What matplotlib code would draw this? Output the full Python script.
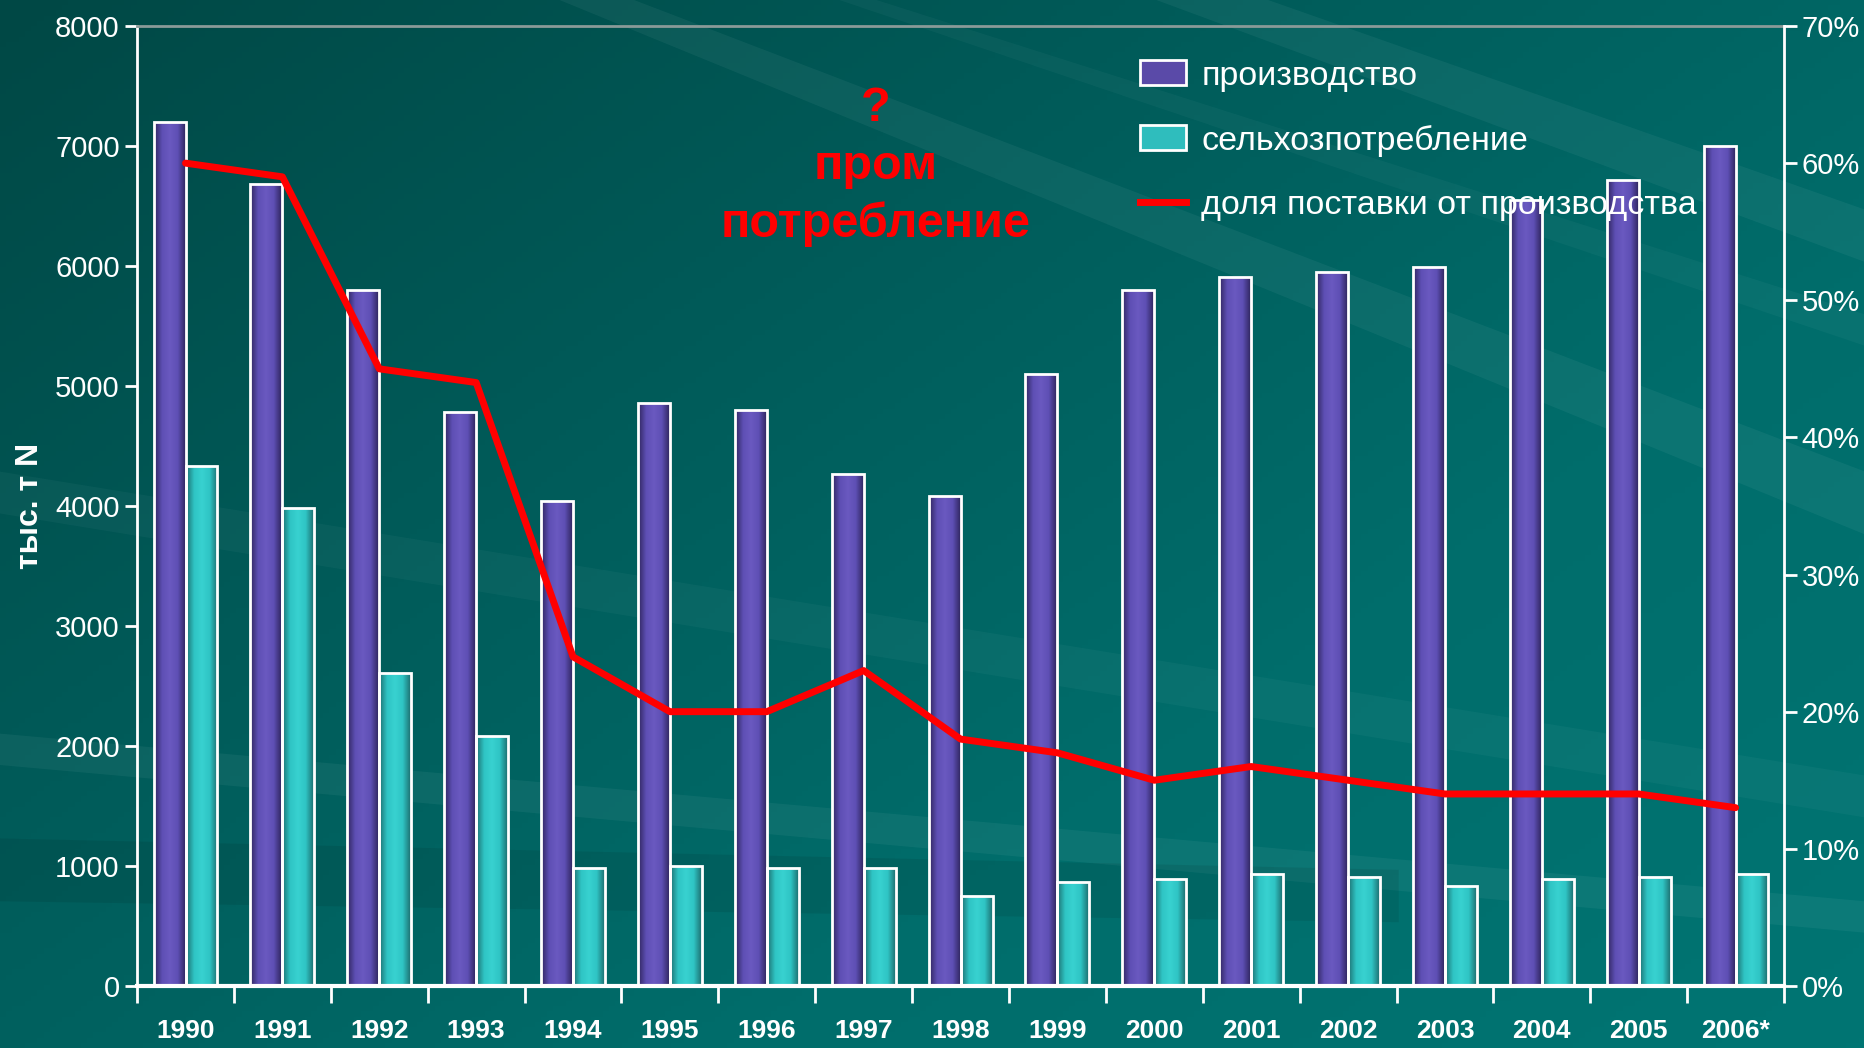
import numpy as np
import matplotlib.pyplot as plt
from matplotlib.colors import LinearSegmentedColormap
from matplotlib.patches import Patch, Polygon
from matplotlib.lines import Line2D
from matplotlib.ticker import FuncFormatter

# data
years = ["1990", "1991", "1992", "1993", "1994", "1995", "1996", "1997", "1998",
         "1999", "2000", "2001", "2002", "2003", "2004", "2005", "2006*"]
production = [7200, 6680, 5800, 4780, 4040, 4860, 4800, 4270, 4080,
              5100, 5800, 5910, 5950, 5990, 6550, 6720, 7000]
agri_use = [4330, 3980, 2610, 2080, 980, 1000, 980, 980, 750,
            870, 890, 930, 910, 830, 890, 910, 930]
supply_share = [60, 59, 45, 44, 24, 20, 20, 23, 18, 17, 15, 16, 15, 14, 14, 14, 13]

NARROW = ["Liberation Sans Narrow", "Liberation Sans", "DejaVu Sans"]
BOLD = ["Liberation Sans", "DejaVu Sans"]

fig = plt.figure(figsize=(18.65, 10.48), dpi=100)

# teal background with a few diagonal streaks
bg = fig.add_axes([0, 0, 1, 1], zorder=-10)
gx, gy = np.meshgrid(np.linspace(0, 1, 300), np.linspace(0, 1, 200))
t = np.clip(0.55 * gx + 0.45 * gy, 0, 1)
bg_cmap = LinearSegmentedColormap.from_list("bg", ["#004845", "#005a58", "#006d6b", "#007573"])
bg.imshow(t, cmap=bg_cmap, extent=[0, 1, 0, 1], origin="upper", aspect="auto")
streaks = [
    [(0.30, 1.0), (0.34, 1.0), (1.0, 0.55), (1.0, 0.49)],
    [(0.45, 1.0), (0.47, 1.0), (1.0, 0.70), (1.0, 0.67)],
    [(0.62, 1.0), (0.68, 1.0), (1.0, 0.80), (1.0, 0.75)],
    [(0.0, 0.55), (0.0, 0.51), (1.0, 0.22), (1.0, 0.26)],
    [(0.0, 0.30), (0.0, 0.27), (1.0, 0.11), (1.0, 0.14)],
]
for i, pts in enumerate(streaks):
    bg.add_patch(Polygon(pts, closed=True, color="white", alpha=0.035 if i % 2 else 0.05, lw=0))
bg.add_patch(Polygon([(0.0, 0.20), (0.0, 0.14), (0.75, 0.12), (0.75, 0.17)], closed=True,
                     color="black", alpha=0.08, lw=0))
bg.set_xlim(0, 1)
bg.set_ylim(0, 1)
bg.axis("off")

ax = fig.add_axes([0.0735, 0.0592, 0.8831, 0.9160])
ax.patch.set_alpha(0)

x = np.arange(len(years))
w = 0.33
b1 = ax.bar(x - w / 2, production, w, color="#5a4aa8", edgecolor="white", linewidth=2, zorder=2)
b2 = ax.bar(x + w / 2, agri_use, w, color="#2fbdbd", edgecolor="white", linewidth=2, zorder=2)

# cylinder-like shading inside the bars
purple_cmap = LinearSegmentedColormap.from_list("p", ["#2f265e", "#5e4fb4", "#6a59c0", "#5e4fb4", "#2f265e"])
cyan_cmap = LinearSegmentedColormap.from_list("c", ["#1d6f70", "#2fc4c4", "#38d2d0", "#2fc4c4", "#1d6f70"])
shade = np.linspace(0, 1, 64).reshape(1, -1)
for bars, cm in [(b1, purple_cmap), (b2, cyan_cmap)]:
    for p in bars:
        x0, y0 = p.get_x(), p.get_y()
        im = ax.imshow(shade, cmap=cm, aspect="auto", zorder=2.1,
                       extent=[x0, x0 + p.get_width(), y0, y0 + p.get_height()])
        im.set_clip_path(p)
    for p in bars:
        p.set_facecolor("none")
        p.set_zorder(2.2)

ax.set_xlim(-0.5, len(years) - 0.5)
ax.set_ylim(0, 8000)
ax.set_yticks(range(0, 8001, 1000))
ax.set_xticks(x)
ax.set_xticklabels(years, fontsize=19, fontweight="bold", color="white", family=NARROW)
ax.set_xticks(np.arange(-0.5, len(years), 1), minor=True)
ax.tick_params(axis="x", which="major", length=0, pad=24)
ax.tick_params(axis="x", which="minor", length=12, width=2, color="white", direction="out")
ax.tick_params(axis="y", length=9, width=2, color="white", labelcolor="white", labelsize=21)
for lab in ax.get_yticklabels():
    lab.set_family(NARROW)

for side in ["left", "bottom"]:
    ax.spines[side].set_color("white")
ax.spines["left"].set_linewidth(2)
ax.spines["bottom"].set_linewidth(3)
ax.spines["top"].set_color("#8a9a98")
ax.spines["top"].set_linewidth(2)
ax.spines["right"].set_visible(False)

ax.set_ylabel("тыс. т N", color="white", fontsize=23, fontweight="bold", family=BOLD)
ax.yaxis.set_label_coords(-0.056, 0.5)

ax2 = ax.twinx()
ax2.plot(x, supply_share, color="#ff0000", linewidth=5, solid_capstyle="round", zorder=5)
ax2.set_ylim(0, 70)
ax2.set_yticks(range(0, 71, 10))
ax2.yaxis.set_major_formatter(FuncFormatter(lambda v, pos: f"{v:.0f}%"))
ax2.tick_params(axis="y", length=9, width=2, color="white", labelcolor="white", labelsize=21)
for lab in ax2.get_yticklabels():
    lab.set_family(NARROW)
for side in ["left", "top", "bottom"]:
    ax2.spines[side].set_visible(False)
ax2.spines["right"].set_color("white")
ax2.spines["right"].set_linewidth(2)

handles = [
    Patch(facecolor="#5a4aa8", edgecolor="white", linewidth=2, label="производство"),
    Patch(facecolor="#2fbdbd", edgecolor="white", linewidth=2, label="сельхозпотребление"),
    Line2D([], [], color="#ff0000", linewidth=5, label="доля поставки от производства"),
]
leg = ax2.legend(handles=handles, loc="upper left", bbox_to_anchor=(0.5905, 0.996), frameon=False,
                 labelcolor="white", prop={"family": NARROW, "size": 24.5},
                 handlelength=1.35, handleheight=0.75, handletextpad=0.45, labelspacing=0.97)

ax2.text(0.4485, 0.914, "?", transform=ax2.transAxes, ha="center", va="center",
         color="#ff0000", fontsize=35, fontweight="bold", family=BOLD)
ax2.text(0.4485, 0.854, "пром", transform=ax2.transAxes, ha="center", va="center",
         color="#ff0000", fontsize=35, fontweight="bold", family=BOLD)
ax2.text(0.4485, 0.794, "потребление", transform=ax2.transAxes, ha="center", va="center",
         color="#ff0000", fontsize=35, fontweight="bold", family=BOLD)

fig.savefig("out.png", dpi=100)
